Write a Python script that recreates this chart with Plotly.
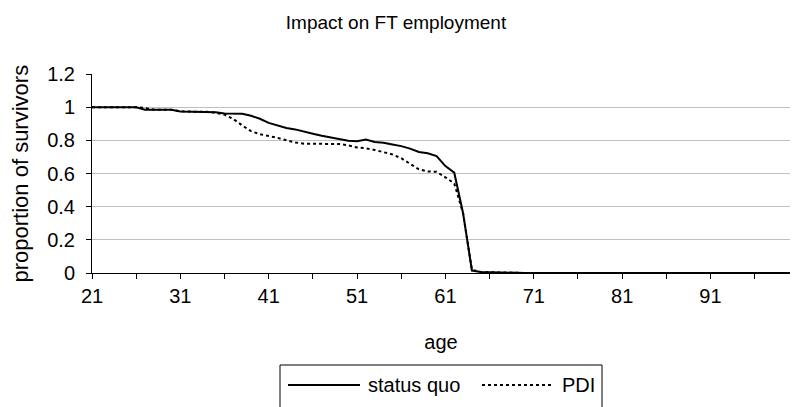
import plotly.graph_objects as go

ages = list(range(21, 101))

status_quo_head = [
    1.0, 1.0, 1.0, 1.0, 1.0, 1.0, 0.985, 0.984, 0.984, 0.984,   # 21-30
    0.974, 0.972, 0.972, 0.972, 0.970, 0.962, 0.962, 0.960, 0.948, 0.930,  # 31-40
    0.905, 0.890, 0.875, 0.866, 0.855, 0.840, 0.828, 0.817, 0.810, 0.797,  # 41-50
    0.795, 0.805, 0.790, 0.786, 0.775, 0.765, 0.750, 0.730, 0.722, 0.705,  # 51-60
    0.645, 0.605, 0.360, 0.015, 0.006, 0.004, 0.002,                      # 61-67
]
pdi_head = [
    1.0, 1.0, 1.0, 1.0, 1.0, 1.0, 0.995, 0.985, 0.984, 0.984,   # 21-30
    0.975, 0.972, 0.972, 0.972, 0.966, 0.955, 0.928, 0.890, 0.855, 0.837,  # 31-40
    0.828, 0.815, 0.800, 0.787, 0.780, 0.778, 0.778, 0.778, 0.778, 0.770,  # 41-50
    0.757, 0.752, 0.742, 0.728, 0.715, 0.692, 0.660, 0.625, 0.612, 0.610,  # 51-60
    0.577, 0.540, 0.360, 0.020, 0.006, 0.004, 0.002,                      # 61-67
]
status_quo = status_quo_head + [0.0] * (len(ages) - len(status_quo_head))
pdi = pdi_head + [0.0] * (len(ages) - len(pdi_head))

series_names = ["status quo", "PDI"]
series_dash = ["solid", "3px,3px"]

y_ticks = [0, 0.2, 0.4, 0.6, 0.8, 1.0, 1.2]
y_ticktext = ["0", "0.2", "0.4", "0.6", "0.8", "1", "1.2"]
y_grid = [0.2, 0.4, 0.6, 0.8, 1.0]

FONT = "Liberation Sans, Arial, sans-serif"

W, H = 792, 407
ML, MR, MT, MB = 92, 2, 74, 134
PW, PH = W - ML - MR, H - MT - MB


def px_x(px):
    return (px - ML) / PW


def px_y(py):
    return (H - MB - py) / PH


fig = go.Figure()
for name, vals, dash in zip(series_names, [status_quo, pdi], series_dash):
    fig.add_trace(go.Scatter(x=ages, y=vals, mode="lines", name=name,
                             line=dict(color="black", width=2, dash=dash),
                             showlegend=False))

# Excel-style legend box (bottom, centred under plot area)
legend_top, legend_bottom = 365, 420
fig.add_shape(type="rect", xref="paper", yref="paper",
              x0=px_x(280), x1=px_x(602), y0=px_y(legend_bottom), y1=px_y(legend_top),
              line=dict(color="black", width=1), fillcolor="white", layer="above")
legend_items = [
    (series_names[0], series_dash[0], 288, 360, 366),
    (series_names[1], series_dash[1], 482, 554, 560),
]
for name, dash, lx0, lx1, tx in legend_items:
    fig.add_shape(type="line", xref="paper", yref="paper",
                  x0=px_x(lx0), x1=px_x(lx1), y0=px_y(385), y1=px_y(385),
                  line=dict(color="black", width=2, dash=dash), layer="above")
    fig.add_annotation(text=name, xref="paper", yref="paper", x=px_x(tx), y=px_y(385),
                       xanchor="left", yanchor="middle", showarrow=False,
                       font=dict(size=20, family=FONT, color="black"))

# y-axis title placed like the Excel original
fig.add_annotation(text="proportion of survivors", xref="paper", yref="paper",
                   x=px_x(20), y=0.5, xanchor="center", yanchor="middle",
                   textangle=-90, showarrow=False,
                   font=dict(size=22, family=FONT, color="black"))

fig.update_layout(
    width=W, height=H,
    margin=dict(l=ML, r=MR, t=MT, b=MB, autoexpand=False),
    paper_bgcolor="white", plot_bgcolor="white",
    font=dict(family=FONT, color="black", size=20),
    title=dict(text="Impact on FT employment", x=0.5, xanchor="center",
               y=1 - 22 / 407, yanchor="middle", yref="container",
               font=dict(size=19, family=FONT, color="black")),
    showlegend=False,
)
fig.update_xaxes(
    range=[21, 100], tick0=21, dtick=10, tickmode="linear",
    ticks="outside", ticklen=5, tickcolor="black", tickwidth=1,
    showline=True, linecolor="black", linewidth=1,
    showgrid=False, zeroline=False, automargin=False,
    minor=dict(tick0=21, dtick=5, ticks="outside", ticklen=5, tickcolor="black"),
    ticklabelstandoff=0,
    title=dict(text="age", standoff=28, font=dict(size=20)),
    tickfont=dict(size=20),
)
fig.update_yaxes(
    range=[0, 1.2], tickmode="array", tickvals=y_ticks, ticktext=y_ticktext,
    ticks="outside", ticklen=5, tickcolor="black", tickwidth=1,
    showline=True, linecolor="black", linewidth=1,
    showgrid=False, zeroline=False, automargin=False,
    minor=dict(tickmode="array", tickvals=y_grid, showgrid=True,
               gridcolor="#c0c0c0", gridwidth=1, ticks=""),
    ticklabelstandoff=7,
    tickfont=dict(size=20),
)

fig.write_html("out.html", config={"displayModeBar": False},
               post_script="document.body.style.margin='0';document.body.style.overflow='hidden';")
